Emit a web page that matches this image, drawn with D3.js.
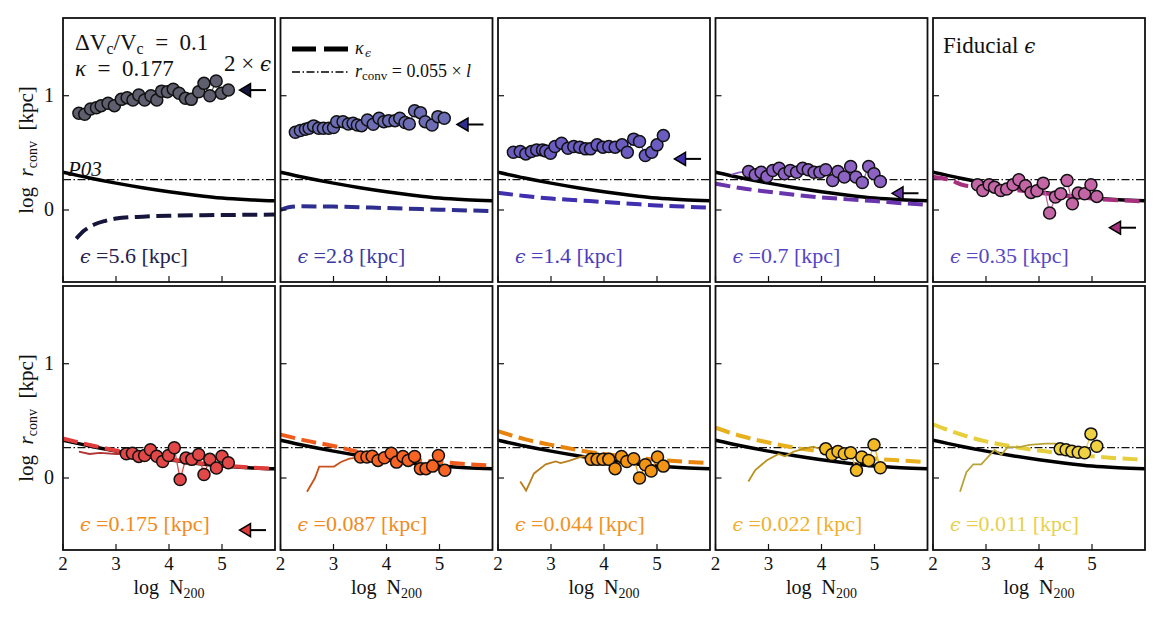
<!DOCTYPE html>
<html>
<head>
<meta charset="utf-8">
<script src="https://cdn.jsdelivr.net/npm/d3@7"></script>
<style>
body { margin: 0; background: #fff; }
svg text { font-family: "Liberation Serif", serif; fill: #111; white-space: pre; }
svg .eps { font-family: "DejaVu Serif", serif; font-style: italic; }
</style>
</head>
<body>
<div id="chart-area"></div>
<script>
// ---- data ----
var epsValues = [5.6, 2.8, 1.4, 0.7, 0.35, 0.175, 0.087, 0.044, 0.022, 0.011];
var epsLabels = ["5.6", "2.8", "1.4", "0.7", "0.35", "0.175", "0.087", "0.044", "0.022", "0.011"];
var xTicks = [2, 3, 4, 5];
var yTicks = [0, 1];
var convLevel = 0.265;   // r_conv = 0.055 x l
var arrowN = [5.33, 5.83];

// P03 curve
var p03N = [2, 2.5, 3, 3.5, 4, 4.5, 5, 5.5, 6];
var p03R = [0.33, 0.28, 0.235, 0.195, 0.16, 0.13, 0.105, 0.09, 0.08];

// measured r_conv per run
var dots1 = [[2.30,0.846],[2.41,0.838],[2.52,0.884],[2.63,0.895],[2.72,0.913],[2.85,0.934],[2.97,0.913],[3.10,0.968],[3.21,0.983],[3.32,0.962],[3.43,1.006],[3.54,0.962],[3.66,1.0],[3.77,0.962],[3.86,1.04],[3.97,1.035],[4.08,1.056],[4.19,1.021],[4.31,0.977],[4.42,0.968],[4.56,1.035],[4.66,1.108],[4.77,1.0],[4.89,1.128],[4.99,1.021],[5.12,1.05]];
var dots2 = [[2.28,0.68],[2.375,0.695],[2.47,0.707],[2.54,0.715],[2.625,0.736],[2.72,0.715],[2.81,0.715],[2.91,0.715],[3.0,0.721],[3.06,0.773],[3.18,0.773],[3.28,0.753],[3.37,0.759],[3.45,0.744],[3.53,0.738],[3.64,0.788],[3.75,0.75],[3.86,0.803],[3.95,0.773],[4.04,0.782],[4.16,0.782],[4.25,0.803],[4.35,0.765],[4.43,0.753],[4.53,0.869],[4.64,0.852],[4.73,0.773],[4.86,0.744],[4.97,0.817],[5.09,0.803]];
var dots3 = [[2.29,0.506],[2.42,0.511],[2.525,0.491],[2.63,0.511],[2.73,0.526],[2.84,0.526],[2.9,0.517],[2.99,0.497],[3.075,0.555],[3.2,0.584],[3.32,0.541],[3.43,0.555],[3.54,0.55],[3.65,0.535],[3.745,0.535],[3.87,0.57],[3.98,0.55],[4.09,0.555],[4.21,0.55],[4.34,0.57],[4.44,0.506],[4.56,0.62],[4.67,0.6],[4.78,0.476],[4.9,0.506],[5.0,0.57],[5.12,0.651]];
var dots4 = [[2.625,0.337],[2.75,0.308],[2.86,0.331],[2.97,0.293],[3.08,0.346],[3.2,0.366],[3.3,0.317],[3.41,0.346],[3.53,0.331],[3.645,0.366],[3.75,0.352],[3.86,0.331],[3.97,0.331],[4.08,0.352],[4.21,0.258],[4.31,0.337],[4.43,0.288],[4.55,0.38],[4.65,0.288],[4.77,0.241],[4.89,0.38],[4.99,0.317],[5.11,0.25]];
var dots5 = [[2.84,0.221],[2.94,0.171],[3.06,0.221],[3.16,0.2],[3.28,0.171],[3.39,0.183],[3.51,0.221],[3.62,0.264],[3.745,0.212],[3.85,0.154],[3.96,0.168],[4.08,0.235],[4.2,-0.026],[4.31,0.113],[4.41,0.142],[4.53,0.258],[4.63,0.055],[4.74,0.148],[4.86,0.142],[4.98,0.221],[5.09,0.119]];
var dots6 = [[3.195,0.212],[3.31,0.217],[3.43,0.189],[3.54,0.197],[3.65,0.247],[3.77,0.191],[3.88,0.145],[3.99,0.197],[4.1,0.264],[4.21,-0.014],[4.32,0.174],[4.43,0.163],[4.56,0.206],[4.66,0.03],[4.77,0.163],[4.895,0.087],[5.0,0.191],[5.12,0.134]];
var dots7 = [[3.51,0.183],[3.63,0.183],[3.73,0.191],[3.84,0.154],[3.96,0.177],[4.09,0.217],[4.19,0.139],[4.31,0.189],[4.41,0.154],[4.53,0.189],[4.64,0.082],[4.745,0.082],[4.87,0.104],[4.98,0.197],[5.1,0.067]];
var dots8 = [[3.76,0.163],[3.87,0.163],[3.98,0.163],[4.09,0.163],[4.21,0.082],[4.33,0.189],[4.43,0.145],[4.56,0.169],[4.67,0.0],[4.78,0.116],[4.89,0.061],[5.01,0.183],[5.12,0.104]];
var dots9 = [[4.08,0.255],[4.2,0.206],[4.31,0.232],[4.43,0.212],[4.55,0.221],[4.66,0.067],[4.76,0.183],[4.89,0.154],[4.99,0.29],[5.11,0.09]];
var dots10 = [[4.4,0.255],[4.51,0.247],[4.62,0.235],[4.74,0.226],[4.86,0.221],[4.98,0.386],[5.09,0.278]];

// kappa_eps model curves
var kappa1 = [[2.25,-0.25],[2.4,-0.18],[2.6,-0.125],[2.8,-0.095],[3.0,-0.075],[3.5,-0.058],[4.0,-0.05],[5.0,-0.044],[6.0,-0.04]];
var kappa2 = [[2.0,0.0],[2.15,0.025],[2.4,0.032],[3.0,0.03],[4.0,0.017],[5.0,0.003],[6.0,-0.01]];
var kappa3 = [[2,0.15],[2.5,0.123],[3,0.10],[3.5,0.085],[4,0.07],[4.5,0.055],[5,0.04],[5.5,0.03],[6,0.02]];
var kappa4 = [[2,0.23],[2.5,0.19],[3,0.16],[3.5,0.133],[4,0.11],[4.5,0.093],[5,0.078],[5.5,0.06],[6,0.045]];
var kappa5 = [[2,0.29],[2.3,0.265],[2.6,0.215],[3,0.2],[3.5,0.178],[4,0.15],[4.5,0.123],[5,0.1],[5.5,0.085],[6,0.075]];
var kappa6 = [[2,0.345],[2.5,0.29],[3,0.24],[3.5,0.2],[4,0.165],[4.5,0.135],[5,0.11],[5.5,0.093],[6,0.082]];
var kappa7 = [[2,0.38],[2.5,0.325],[3,0.28],[3.5,0.225],[4,0.18],[4.5,0.16],[5,0.14],[5.5,0.122],[6,0.11]];
var kappa8 = [[2,0.41],[2.5,0.34],[3,0.29],[3.5,0.245],[4,0.21],[4.5,0.183],[5,0.16],[5.5,0.143],[6,0.13]];
var kappa9 = [[2,0.44],[2.5,0.365],[3,0.31],[3.5,0.265],[4,0.23],[4.5,0.198],[5,0.17],[5.5,0.153],[6,0.14]];
var kappa10 = [[2,0.47],[2.5,0.385],[3,0.32],[3.5,0.275],[4,0.24],[4.5,0.213],[5,0.19],[5.5,0.172],[6,0.16]];

// thin running profiles at low N
var thin4 = [[2.3,0.31],[2.45,0.33],[2.6,0.335]];
var thin6 = [[2.3,0.23],[2.5,0.21],[2.7,0.22],[3.0,0.21],[3.2,0.21]];
var thin7 = [[2.5,-0.12],[2.65,0.0],[2.73,0.1],[3.01,0.10],[3.14,0.14],[3.3,0.17],[3.5,0.18]];
var thin8 = [[2.42,-0.03],[2.53,-0.11],[2.68,0.04],[2.9,0.12],[3.09,0.145],[3.18,0.13],[3.34,0.15],[3.53,0.18],[3.72,0.2]];
var thin9 = [[2.62,-0.03],[2.75,0.07],[2.97,0.155],[3.19,0.21],[3.31,0.19],[3.47,0.23],[3.66,0.255],[3.84,0.275],[3.97,0.255],[4.08,0.255]];
var thin10 = [[2.51,-0.12],[2.63,0.05],[2.76,0.12],[2.91,0.12],[3.16,0.245],[3.29,0.205],[3.41,0.27],[3.63,0.27],[3.82,0.29],[4.13,0.3],[4.32,0.3],[4.4,0.255]];

// colours
var dotColors = ["#5e5e6e", "#6d6db5", "#6a5cc0", "#8c62c2", "#c466a6", "#e24848", "#f86424", "#f39414", "#f3ba24", "#efd244"];
var kappaColors = ["#16163c", "#2e2e90", "#4030b0", "#6a34ac", "#a6307e", "#e03c3c", "#f05a1c", "#e8840c", "#e8b01c", "#e6ce3c"];
var thinColors = [null, null, null, "#8a5ac0", null, "#b03434", "#c8521c", "#b8801c", "#b8921c", "#b8a436"];
var labelColors = ["#22224c", "#3a3aa2", "#4c3cbc", "#5444c4", "#5848c2", "#f08a22", "#f08a22", "#f09222", "#f0b02c", "#e8d04c"];

var dotsList = [dots1, dots2, dots3, dots4, dots5, dots6, dots7, dots8, dots9, dots10];
var kappaList = [kappa1, kappa2, kappa3, kappa4, kappa5, kappa6, kappa7, kappa8, kappa9, kappa10];
var thinList = [null, null, null, thin4, null, thin6, thin7, thin8, thin9, thin10];

// ---- layout ----
var W = 1163, H = 620;
var colLeft = [63, 280.5, 498, 715.5, 933];
var rowTop = [18, 286];
var pw = 212, ph = 264;
var yDomain = [-0.63, 1.68];

var svg = d3.select("#chart-area")
    .append("svg")
    .attr("width", W)
    .attr("height", H);

var defs = svg.append("defs");

var p03 = p03N.map(function(n, i) { return [n, p03R[i]]; });

// epsilon symbol next to roman text, as separate text nodes
function epsText(parent, x0, y0, size, before, after, color) {
    var cx = x0;
    if (before) {
        var b = parent.append("text").attr("x", cx).attr("y", y0)
            .attr("font-size", size).style("fill", color).text(before);
        cx += b.node().getComputedTextLength();
    }
    var e = parent.append("text").attr("class", "eps").attr("x", cx).attr("y", y0)
        .attr("font-size", size * 0.86).style("fill", color).text("\u03f5");
    cx += e.node().getComputedTextLength();
    if (after) {
        parent.append("text").attr("x", cx).attr("y", y0)
            .attr("font-size", size).style("fill", color).text(after);
    }
}

d3.range(10).forEach(function(i) {
    var col = i % 5, row = Math.floor(i / 5);
    var left = colLeft[col], top = rowTop[row];

    var x = d3.scaleLinear().domain([2, 6]).range([left, left + pw]);
    var y = d3.scaleLinear().domain(yDomain).range([top + ph, top]);

    defs.append("clipPath").attr("id", "clip" + i)
        .append("rect").attr("x", left).attr("y", top).attr("width", pw).attr("height", ph);

    var g = svg.append("g");
    var plot = g.append("g").attr("clip-path", "url(#clip" + i + ")");

    var line = d3.line().x(function(d) { return x(d[0]); }).y(function(d) { return y(d[1]); });
    var smooth = d3.line().x(function(d) { return x(d[0]); }).y(function(d) { return y(d[1]); })
        .curve(d3.curveMonotoneX);

    // r_conv = 0.055 l
    plot.append("line")
        .attr("x1", x(2)).attr("x2", x(6))
        .attr("y1", y(convLevel)).attr("y2", y(convLevel))
        .attr("stroke", "#111").attr("stroke-width", 1.3)
        .attr("stroke-dasharray", "8,2.5,1.5,2.5");

    // P03
    plot.append("path").datum(p03)
        .attr("d", smooth)
        .attr("fill", "none").attr("stroke", "#000").attr("stroke-width", 3.5);

    // kappa_eps
    plot.append("path").datum(kappaList[i])
        .attr("d", smooth)
        .attr("fill", "none").attr("stroke", kappaColors[i]).attr("stroke-width", 4)
        .attr("stroke-dasharray", "15,6.5");

    if (thinList[i]) {
        plot.append("path").datum(thinList[i])
            .attr("d", line)
            .attr("fill", "none").attr("stroke", thinColors[i]).attr("stroke-width", 1.8);
    }

    // connecting line + dots
    plot.append("path").datum(dotsList[i])
        .attr("d", line)
        .attr("fill", "none").attr("stroke", dotColors[i]).attr("stroke-width", 1.3);

    plot.selectAll("circle.pt")
        .data(dotsList[i])
        .enter()
        .append("circle")
        .attr("class", "pt")
        .attr("cx", function(d) { return x(d[0]); })
        .attr("cy", function(d) { return y(d[1]); })
        .attr("r", 6)
        .attr("fill", dotColors[i])
        .attr("stroke", "#111")
        .attr("stroke-width", 1.5);

    // 2 x eps arrow
    var ay = Math.log10(2 * epsValues[i]);
    if (ay > yDomain[0]) {
        var tip = x(arrowN[0]);
        plot.append("line")
            .attr("x1", tip + 10).attr("x2", x(arrowN[1]))
            .attr("y1", y(ay)).attr("y2", y(ay))
            .attr("stroke", "#000").attr("stroke-width", 2);
        plot.append("path")
            .attr("d", "M" + tip + "," + y(ay) + "L" + (tip + 11) + "," + (y(ay) - 6.5) +
                "L" + (tip + 11) + "," + (y(ay) + 6.5) + "Z")
            .attr("fill", kappaColors[i]).attr("stroke", "#000").attr("stroke-width", 1.5);
    }

    // ticks (inward)
    yTicks.forEach(function(t) {
        g.append("line")
            .attr("x1", left).attr("x2", left + 6)
            .attr("y1", y(t)).attr("y2", y(t))
            .attr("stroke", "#111").attr("stroke-width", 1.2);
    });
    xTicks.forEach(function(t) {
        g.append("line")
            .attr("x1", x(t)).attr("x2", x(t))
            .attr("y1", top + ph).attr("y2", top + ph - 6)
            .attr("stroke", "#111").attr("stroke-width", 1.2);
    });

    // frame
    g.append("rect")
        .attr("x", left).attr("y", top).attr("width", pw).attr("height", ph)
        .attr("fill", "none").attr("stroke", "#111").attr("stroke-width", 1.8);

    // eps label
    epsText(g, left + 17, top + 245, 22, null, " =" + epsLabels[i] + " [kpc]", labelColors[i]);

    if (col === 0) {
        yTicks.forEach(function(t) {
            g.append("text")
                .attr("x", left - 9).attr("y", y(t) + 6)
                .attr("text-anchor", "end").attr("font-size", 20)
                .text(t);
        });
        var yl = g.append("text")
            .attr("transform", "translate(33," + (top + ph / 2) + ") rotate(-90)")
            .attr("text-anchor", "middle").attr("font-size", 21);
        yl.append("tspan").text("log  ");
        yl.append("tspan").attr("font-style", "italic").text("r");
        yl.append("tspan").attr("font-size", 14).attr("dy", 4).text("conv");
        yl.append("tspan").attr("dy", -4).text("  [kpc]");
    }

    if (row === 1) {
        xTicks.forEach(function(t) {
            g.append("text")
                .attr("x", x(t)).attr("y", top + ph + 20)
                .attr("text-anchor", "middle").attr("font-size", 19)
                .text(t);
        });
        var xl = g.append("text")
            .attr("x", left + pw / 2).attr("y", top + ph + 44)
            .attr("text-anchor", "middle").attr("font-size", 20);
        xl.append("tspan").text("log  N");
        xl.append("tspan").attr("font-size", 14).attr("dy", 4).text("200");
    }
});

// ---- annotations ----
var t1 = svg.append("text").attr("x", 75).attr("y", 50).attr("font-size", 23);
t1.append("tspan").text("\u0394V");
t1.append("tspan").attr("font-size", 16).attr("dy", 4).text("c");
t1.append("tspan").attr("dy", -4).text("/V");
t1.append("tspan").attr("font-size", 16).attr("dy", 4).text("c");
t1.append("tspan").attr("dy", -4).text("  =  0.1");

var t2 = svg.append("text").attr("x", 75).attr("y", 76).attr("font-size", 23);
t2.append("tspan").attr("font-style", "italic").text("\u03ba");
t2.append("tspan").text("  =  0.177");

epsText(svg, 224, 71, 23, "2 \u00d7 ", null, "#111");

svg.append("text").attr("x", 68).attr("y", 176).attr("font-size", 21)
    .attr("font-style", "italic").text("P03");

epsText(svg, 943, 53, 23, "Fiducial ", null, "#111");

// legend in panel 2
svg.append("line").attr("x1", 292).attr("x2", 348).attr("y1", 49).attr("y2", 49)
    .attr("stroke", "#000").attr("stroke-width", 5).attr("stroke-dasharray", "24,8");
svg.append("line").attr("x1", 292).attr("x2", 348).attr("y1", 72).attr("y2", 72)
    .attr("stroke", "#000").attr("stroke-width", 1.3).attr("stroke-dasharray", "8,2.5,1.5,2.5");
svg.append("text").attr("x", 355).attr("y", 54).attr("font-size", 18)
    .attr("font-style", "italic").text("\u03ba");
svg.append("text").attr("class", "eps").attr("x", 365).attr("y", 57).attr("font-size", 11)
    .text("\u03f5");
var l2 = svg.append("text").attr("x", 355).attr("y", 77).attr("font-size", 18);
l2.append("tspan").attr("font-style", "italic").text("r");
l2.append("tspan").attr("font-size", 13).attr("dy", 3).text("conv");
l2.append("tspan").attr("dy", -3).text(" = 0.055 \u00d7 ");
l2.append("tspan").attr("font-style", "italic").text("l");
</script>
</body>
</html>
